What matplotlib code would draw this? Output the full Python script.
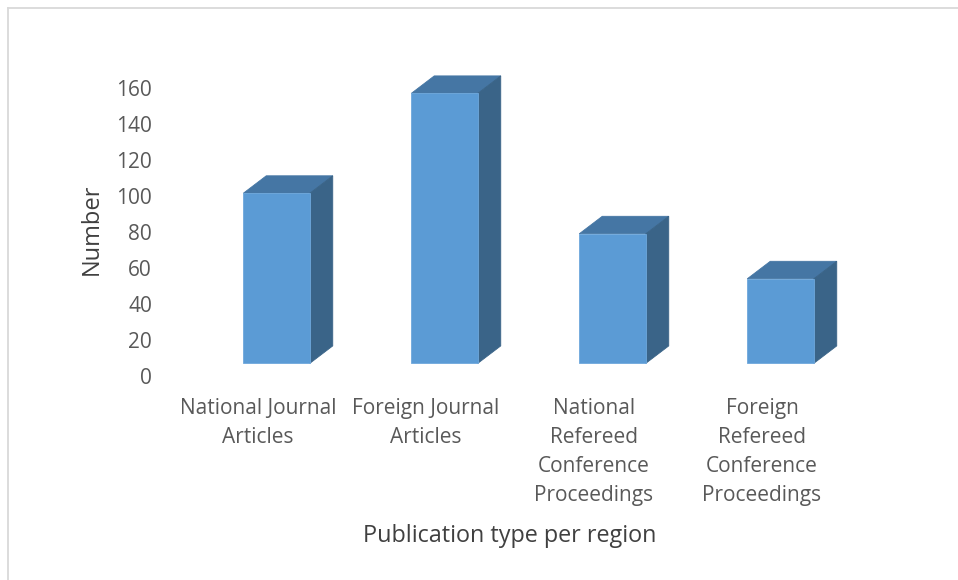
import matplotlib
matplotlib.use('Agg')
import matplotlib.pyplot as plt
from matplotlib.patches import Rectangle

plt.rcParams['font.family'] = ['Open Sans', 'DejaVu Sans']

categories = ['National Journal\nArticles', 'Foreign Journal\nArticles',
              'National\nRefereed\nConference\nProceedings',
              'Foreign\nRefereed\nConference\nProceedings']
values = [101.5, 157, 79, 54]
y_ticks = [0, 20, 40, 60, 80, 100, 120, 140, 160]

W, H = 958, 580
fig = plt.figure(figsize=(W / 100, H / 100), dpi=100)

# Axes in pixels: zero at y=376, 1.8 px per unit, 168 px per category.
left, right, top, bottom = 193, 865, 60, 376
ax = fig.add_axes([left / W, 1 - bottom / H, (right - left) / W, (bottom - top) / H])
ax.set_xlim((left - 276.5) / 168, (right - 276.5) / 168)
ax.set_ylim(0, (bottom - top) / 1.8)
ax.patch.set_visible(False)
for s in ax.spines.values():
    s.set_visible(False)

# 3D look of the bars: floor offset and depth.
base = 7
bar_w = 66.5 / 168
dx = 23 / 168
dy = 17.5 / 1.8

for i, v in enumerate(values):
    x0 = i - bar_w / 2
    x1 = i + bar_w / 2
    ax.fill([x0, x0 + dx, x1 + dx, x1], [v, v + dy, v + dy, v], color='#4576a4', lw=0.6)
    ax.fill([x1, x1 + dx, x1 + dx, x1], [base, base + dy, v + dy, v], color='#3a6488', lw=0.6)
    ax.add_patch(Rectangle((x0, base), bar_w, v - base, facecolor='#5b9bd5', edgecolor='#6fa8dc', lw=0.6))

ax.set_yticks(y_ticks)
ax.set_xticks([i - 18.5 / 168 for i in range(len(categories))])
ax.set_xticklabels(categories, linespacing=1.49)
ax.tick_params(axis='both', length=0, labelsize=15, labelcolor='#595959')
ax.tick_params(axis='y', pad=29.5)
ax.tick_params(axis='x', pad=16)

fig.text(510 / W, 1 - 535.5 / H, 'Publication type per region', fontsize=16.8,
         color='#404040', ha='center', va='center')
fig.text(92 / W, 1 - 229 / H, 'Number', fontsize=17, color='#404040',
         rotation=90, ha='center', va='center')

# Chart border only shows on the top and left.
fig.add_artist(plt.Line2D([8 / W, 8 / W], [0, 1 - 8 / H], color='#d9d9d9', lw=1.3))
fig.add_artist(plt.Line2D([8 / W, 1], [1 - 8 / H, 1 - 8 / H], color='#d9d9d9', lw=1.3))

fig.savefig('out.png', dpi=100)
